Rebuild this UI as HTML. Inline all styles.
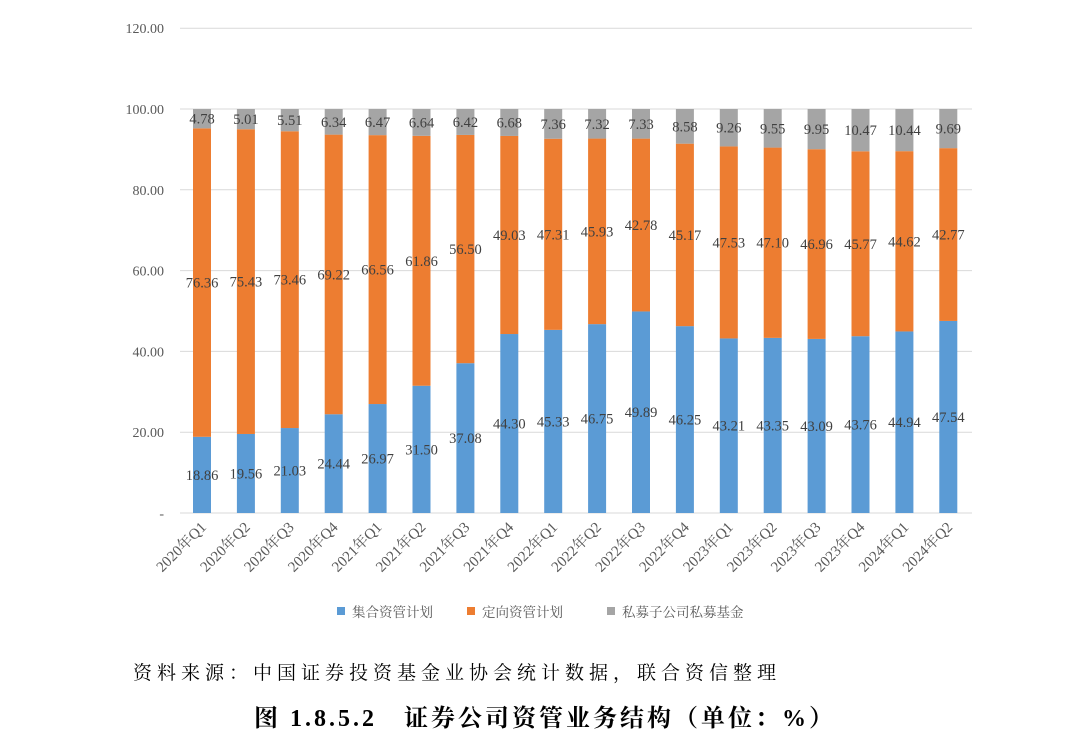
<!DOCTYPE html>
<html><head><meta charset="utf-8"><style>
body{margin:0;background:#fff;width:1080px;height:739px;overflow:hidden;font-family:"Liberation Serif","Noto Serif CJK SC",serif}
svg text{font-family:"Liberation Serif","Noto Serif CJK SC",serif}
</style></head><body>
<svg id="c" width="1080" height="739"></svg>
<script>
const categories=["2020年Q1","2020年Q2","2020年Q3","2020年Q4","2021年Q1","2021年Q2","2021年Q3","2021年Q4","2022年Q1","2022年Q2","2022年Q3","2022年Q4","2023年Q1","2023年Q2","2023年Q3","2023年Q4","2024年Q1","2024年Q2"];
const jihe=[18.86,19.56,21.03,24.44,26.97,31.50,37.08,44.30,45.33,46.75,49.89,46.25,43.21,43.35,43.09,43.76,44.94,47.54];
const dingxiang=[76.36,75.43,73.46,69.22,66.56,61.86,56.50,49.03,47.31,45.93,42.78,45.17,47.53,47.10,46.96,45.77,44.62,42.77];
const simu=[4.78,5.01,5.51,6.34,6.47,6.64,6.42,6.68,7.36,7.32,7.33,8.58,9.26,9.55,9.95,10.47,10.44,9.69];
const yTicks=[0,20,40,60,80,100,120];
const yTickLabels=["-","20.00","40.00","60.00","80.00","100.00","120.00"];
const seriesNames=["集合资管计划","定向资管计划","私募子公司私募基金"];
const colors=["#5B9BD5","#ED7D31","#A5A5A5"];
const ns="http://www.w3.org/2000/svg",svg=document.getElementById('c');
const y=v=>513-v*4.04, x=i=>202+i*43.9;
function mk(t,a,txt){const e=document.createElementNS(ns,t);for(const k in a)e.setAttribute(k,a[k]);if(txt!=null)e.textContent=txt;svg.appendChild(e);return e;}
yTicks.forEach((v,i)=>{
 const l=mk('line',{x1:180,x2:972,y1:y(v),y2:y(v),stroke:'#d9d9d9','stroke-width':1});
 
 
 const t=mk('text',{x:164,y:y(v)+5,'text-anchor':'end','font-size':14,fill:'#595959'},yTickLabels[i]);
 
 
});
const series=[jihe,dingxiang,simu];
categories.forEach((c,i)=>{
 let base=0;
 series.forEach((s,k)=>{
  const v=s[i];
  const r=mk('rect',{x:x(i)-9,y:y(base+v),width:18,height:y(base)-y(base+v),fill:colors[k]});
  
  
  const t=mk('text',{x:x(i),y:y(base+v/2)+5,'text-anchor':'middle','font-size':14.5,fill:'#404040'},v.toFixed(2));
  
  
  base+=v;
 });
 const t=mk('text',{x:x(i)+5,y:528,'text-anchor':'end','font-size':15,fill:'#595959',transform:`rotate(-45 ${x(i)+5} 528)`},c);
 
 
});
const lx=[337,467,607];
seriesNames.forEach((n,k)=>{
 const r=mk('rect',{x:lx[k],y:607,width:8,height:8,fill:colors[k]});
 
 
 const t=mk('text',{x:lx[k]+15,y:617,'font-size':13.5,fill:'#595959'},n);
 
 
});
const s=mk('text',{x:133,y:679,'font-size':19,'letter-spacing':5,fill:'#000'},"资料来源：中国证券投资基金业协会统计数据，联合资信整理");


const ti=mk('text',{x:545,y:726,'text-anchor':'middle','font-size':24,'letter-spacing':3,'font-weight':'bold',fill:'#000'},"图 1.8.5.2　证券公司资管业务结构（单位：%）");


</script>
</body></html>
